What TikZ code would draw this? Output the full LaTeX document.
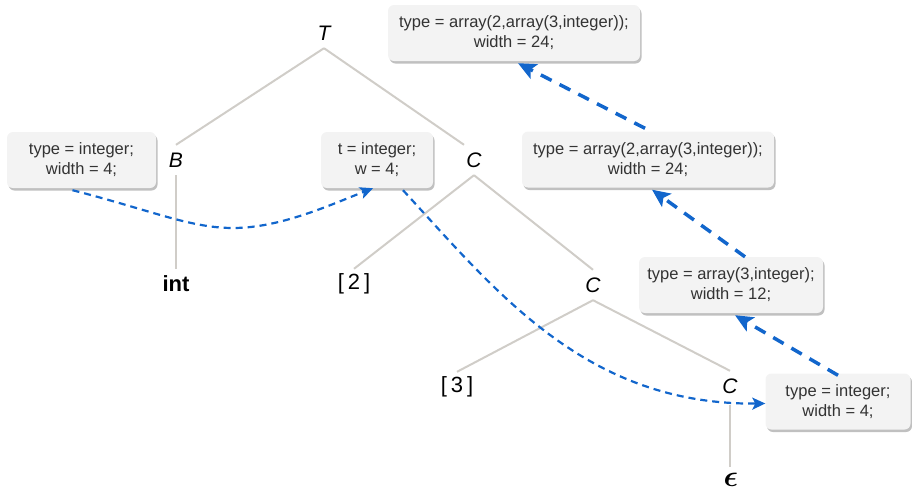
\documentclass[tikz,border=0pt]{standalone}
\usepackage{amsmath}
\usepackage{fontspec}
\setmainfont{Liberation Sans}
\usetikzlibrary{arrows.meta,shadows}

\definecolor{boxfill}{RGB}{243,243,243}
\definecolor{boxtext}{RGB}{51,51,51}
\definecolor{shadowgray}{RGB}{192,192,192}
\definecolor{treegray}{RGB}{208,205,200}
\definecolor{linkblue}{RGB}{18,102,204}

\tikzset{
  attr/.style={rounded corners=6pt, fill=boxfill, align=center, text=boxtext,
    font=\fontsize{16.5}{20}\selectfont, inner sep=0pt, minimum height=56pt,
    drop shadow={shadow xshift=1.5pt, shadow yshift=-2.5pt, fill=shadowgray, opacity=1}},
  sym/.style={font=\fontsize{21}{21}\selectfont\itshape, minimum height=30pt, inner sep=0pt, text=black},
  leaf/.style={font=\fontsize{22}{22}\selectfont, minimum height=30pt, inner sep=0pt, text=black},
  branch/.style={draw=treegray, line width=2pt},
  inh/.style={draw=linkblue, line width=2.2pt, dash pattern=on 7pt off 5pt,
    -{Stealth[length=13pt, width=12pt, inset=3pt]}},
  syn/.style={draw=linkblue, line width=3.5pt, dash pattern=on 12pt off 9pt,
    -{Stealth[length=18pt, width=16pt, inset=4pt]}}
}

\begin{document}
\begin{tikzpicture}[x=1pt, y=-1pt]
\useasboundingbox (0,0) rectangle (912,491);

% parse tree
\node[sym]  (T)  at (324,33)  {T};
\node[sym]  (B)  at (176,160) {B};
\node[leaf] (int) at (176,284) {\bfseries int};
\node[sym]  (C1) at (474,160) {C};
\node[leaf] (n2) at (354,284) {[\hspace{4pt}2\hspace{4pt}]};
\node[sym]  (C2) at (593,285) {C};
\node[leaf] (n3) at (457,387) {[\hspace{4pt}3\hspace{4pt}]};
\node[sym]  (C3) at (730,386) {C};
\node[leaf] (eps) at (731,480) {\scalebox{1.45}{$\boldsymbol{\epsilon}$}};

\draw[branch] (T.south) -- (B.north);
\draw[branch] (T.south) -- ([xshift=-10pt]C1.north);
\draw[branch] (B.south) -- (int.north);
\draw[branch] (C1.south) -- (n2.north);
\draw[branch] (C1.south) -- (C2.north);
\draw[branch] (C2.south) -- (n3.north);
\draw[branch] (C2.south) -- (C3.north);
\draw[branch] ([yshift=-4pt]C3.south) -- ([xshift=-1pt,yshift=-2pt]eps.north);

% attribute boxes
\node[attr, minimum width=149pt] (b1) at (81.5,160) {type = integer;\\width = 4;};
\node[attr, minimum width=112pt] (b2) at (377,160) {t = integer;\\w = 4;};
\node[attr, minimum width=252pt] (b3) at (514,33) {type = array(2,array(3,integer));\\width = 24;};
\node[attr, minimum width=252pt] (b4) at (648,159.5) {type = array(2,array(3,integer));\\width = 24;};
\node[attr, minimum width=184pt] (b5) at (731,285) {type = array(3,integer);\\width = 12;};
\node[attr, minimum width=145pt] (b6) at (838,401.5) {type = integer;\\width = 4;};

% inherited attributes
\draw[inh] ([xshift=-9pt,yshift=-2pt]b1.south) .. controls (150,210) and (190,228) .. (233,228)
  .. controls (280,228) and (330,205) .. ([xshift=-4pt]b2.south);
\draw[inh] ([xshift=26pt,yshift=-2pt]b2.south) .. controls (495,290) and (585,405) .. ([yshift=-2pt]b6.west);

% synthesized attributes
\draw[syn] ([yshift=-2pt]b6.north) -- ([xshift=4pt,yshift=-2pt]b5.south);
\draw[syn] ([xshift=14pt]b5.north) -- ([xshift=4pt,yshift=-2pt]b4.south);
\draw[syn] ([xshift=-3pt,yshift=3pt]b4.north) -- ([xshift=4pt,yshift=-2pt]b3.south);
\end{tikzpicture}
\end{document}
